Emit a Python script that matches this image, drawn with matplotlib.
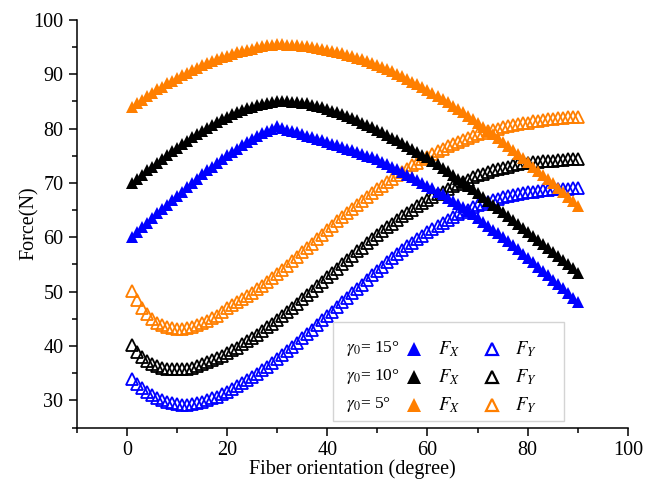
import matplotlib
matplotlib.use("Agg")
import matplotlib.pyplot as plt
from matplotlib.ticker import MultipleLocator
from matplotlib.patches import Rectangle
import numpy as np

# fiber orientation (degree), one point per degree
angle = np.arange(1, 91)

# F_X, filled triangles
fx_15 = [60.0, 60.9, 61.8, 62.7, 63.6, 64.4, 65.2, 66.0, 66.8, 67.6,
         68.4, 69.2, 70.0, 70.8, 71.6, 72.3, 73.0, 73.7, 74.4, 75.1,
         75.7, 76.3, 76.9, 77.5, 78.1, 78.6, 79.1, 79.6, 80.0, 80.4,
         80.1, 79.8, 79.5, 79.3, 79.0, 78.7, 78.4, 78.1, 77.8, 77.5,
         77.2, 76.9, 76.6, 76.3, 76.0, 75.7, 75.4, 75.0, 74.7, 74.3,
         73.9, 73.5, 73.0, 72.5, 72.0, 71.5, 71.0, 70.5, 70.0, 69.5,
         69.0, 68.4, 67.9, 67.3, 66.7, 66.1, 65.5, 64.8, 64.2, 63.5,
         62.8, 62.1, 61.4, 60.7, 60.0, 59.3, 58.5, 57.8, 57.0, 56.2,
         55.4, 54.6, 53.8, 53.0, 52.2, 51.4, 50.6, 49.7, 48.9, 48.0]
fx_10 = [70.0, 70.8, 71.5, 72.3, 73.0, 73.7, 74.4, 75.1, 75.8, 76.4,
         77.1, 77.7, 78.4, 79.0, 79.6, 80.1, 80.7, 81.2, 81.7, 82.2,
         82.6, 83.0, 83.4, 83.7, 84.0, 84.3, 84.5, 84.7, 84.9, 85.0,
         85.0, 85.0, 84.9, 84.8, 84.7, 84.6, 84.4, 84.2, 83.9, 83.6,
         83.3, 83.0, 82.7, 82.3, 81.9, 81.5, 81.1, 80.7, 80.2, 79.8,
         79.3, 78.8, 78.3, 77.8, 77.3, 76.8, 76.3, 75.7, 75.2, 74.7,
         74.1, 73.5, 72.8, 72.2, 71.5, 70.8, 70.2, 69.5, 68.8, 68.1,
         67.4, 66.7, 66.0, 65.3, 64.6, 63.9, 63.2, 62.4, 61.7, 61.0,
         60.3, 59.5, 58.8, 58.0, 57.3, 56.5, 55.8, 55.0, 54.3, 53.5]
fx_5 = [84.0, 84.7, 85.3, 86.0, 86.6, 87.2, 87.7, 88.3, 88.8, 89.3,
        89.8, 90.3, 90.7, 91.2, 91.6, 92.0, 92.4, 92.7, 93.1, 93.4,
        93.7, 94.0, 94.2, 94.5, 94.7, 94.9, 95.1, 95.3, 95.4, 95.5,
        95.5, 95.4, 95.4, 95.3, 95.2, 95.1, 95.0, 94.8, 94.7, 94.5,
        94.3, 94.1, 93.8, 93.6, 93.3, 93.0, 92.7, 92.4, 92.1, 91.7,
        91.3, 90.9, 90.5, 90.1, 89.6, 89.1, 88.6, 88.1, 87.6, 87.0,
        86.5, 85.9, 85.4, 84.8, 84.2, 83.6, 83.0, 82.3, 81.7, 81.0,
        80.3, 79.6, 78.9, 78.2, 77.5, 76.8, 76.0, 75.3, 74.5, 73.8,
        73.0, 72.2, 71.4, 70.7, 69.9, 69.1, 68.3, 67.4, 66.6, 65.8]

# F_Y, open triangles
fy_15 = [34.0, 33.0, 32.2, 31.5, 30.9, 30.4, 30.0, 29.7, 29.5, 29.3,
         29.2, 29.2, 29.3, 29.5, 29.7, 30.0, 30.4, 30.7, 31.1, 31.6,
         32.1, 32.6, 33.1, 33.7, 34.3, 34.9, 35.6, 36.2, 36.9, 37.6,
         38.3, 39.1, 39.8, 40.6, 41.4, 42.2, 43.0, 43.8, 44.7, 45.5,
         46.3, 47.2, 48.0, 48.9, 49.7, 50.5, 51.3, 52.2, 53.0, 53.8,
         54.6, 55.4, 56.1, 56.9, 57.6, 58.3, 59.0, 59.6, 60.3, 60.9,
         61.5, 62.1, 62.6, 63.2, 63.7, 64.2, 64.7, 65.1, 65.5, 65.9,
         66.2, 66.5, 66.8, 67.1, 67.4, 67.6, 67.8, 68.0, 68.2, 68.3,
         68.4, 68.5, 68.6, 68.7, 68.8, 68.8, 68.9, 68.9, 69.0, 69.0]
fy_10 = [40.2, 38.9, 37.9, 37.2, 36.7, 36.3, 36.0, 35.8, 35.7, 35.7,
         35.7, 35.8, 36.0, 36.3, 36.6, 37.0, 37.4, 37.8, 38.2, 38.7,
         39.2, 39.7, 40.3, 40.9, 41.5, 42.1, 42.7, 43.4, 44.1, 44.8,
         45.5, 46.3, 47.0, 47.8, 48.6, 49.4, 50.2, 51.0, 51.8, 52.6,
         53.4, 54.2, 55.0, 55.8, 56.6, 57.4, 58.1, 58.9, 59.7, 60.4,
         61.1, 61.8, 62.5, 63.2, 63.9, 64.5, 65.1, 65.7, 66.3, 66.9,
         67.4, 67.9, 68.4, 68.9, 69.4, 69.8, 70.2, 70.6, 71.0, 71.4,
         71.7, 72.0, 72.3, 72.6, 72.8, 73.0, 73.2, 73.4, 73.6, 73.7,
         73.8, 73.9, 74.0, 74.1, 74.1, 74.2, 74.2, 74.3, 74.3, 74.3]
fy_5 = [50.2, 48.4, 47.0, 45.9, 45.0, 44.3, 43.8, 43.5, 43.3, 43.2,
        43.2, 43.3, 43.5, 43.8, 44.2, 44.6, 45.1, 45.6, 46.3, 47.0,
        47.5, 48.0, 48.6, 49.2, 49.8, 50.5, 51.1, 51.8, 52.5, 53.2,
        54.0, 54.8, 55.6, 56.4, 57.2, 58.0, 58.8, 59.7, 60.5, 61.3,
        62.1, 62.9, 63.7, 64.4, 65.2, 65.9, 66.7, 67.4, 68.1, 68.8,
        69.5, 70.1, 70.8, 71.4, 72.0, 72.6, 73.2, 73.7, 74.3, 74.8,
        75.3, 75.8, 76.2, 76.7, 77.1, 77.5, 77.9, 78.2, 78.6, 78.9,
        79.2, 79.5, 79.7, 80.0, 80.2, 80.4, 80.6, 80.8, 81.0, 81.1,
        81.3, 81.4, 81.5, 81.7, 81.8, 81.9, 82.0, 82.1, 82.1, 82.2]

gamma_labels = [r"$\gamma_0$= 15°", r"$\gamma_0$= 10°", r"$\gamma_0$= 5°"]
colors = ["#0000FF", "#000000", "#FF7F00"]

plt.rcParams["font.family"] = "Liberation Serif"
plt.rcParams["mathtext.fontset"] = "stix"

fig = plt.figure(figsize=(6.61, 4.82), dpi=100)
ax = fig.add_axes([0.116, 0.113, 0.834, 0.846])

# open triangles first, filled ones on top
for fy, c in zip([fy_15, fy_10, fy_5], colors):
    ax.plot(angle, fy, linestyle="none", marker="^", markersize=8.5,
            markerfacecolor="none", markeredgecolor=c, markeredgewidth=1.3)
for fx, c in zip([fx_15, fx_10, fx_5], colors):
    ax.plot(angle, fx, linestyle="none", marker="^", markersize=9,
            color=c, markeredgewidth=0)

ax.set_xlim(-10, 100)
ax.set_ylim(25, 100)
ax.xaxis.set_major_locator(MultipleLocator(20))
ax.xaxis.set_minor_locator(MultipleLocator(10))
ax.yaxis.set_major_locator(MultipleLocator(10))
ax.yaxis.set_minor_locator(MultipleLocator(5))
ax.spines["top"].set_visible(False)
ax.spines["right"].set_visible(False)
for s in ["left", "bottom"]:
    ax.spines[s].set_linewidth(1.1)
ax.tick_params(which="major", direction="out", length=6, width=1.1, labelsize=14.5)
ax.tick_params(which="minor", direction="out", length=3.5, width=1.1)

ax.set_xlabel("Fiber orientation (degree)", fontsize=14.5, labelpad=0)
ax.set_ylabel("Force(N)", fontsize=14.5, labelpad=-4)

# hand made legend box
ax.add_patch(Rectangle((0.465, 0.0164), 0.419, 0.242, transform=ax.transAxes,
                       facecolor="white", edgecolor="#d4d4d4", linewidth=1.0, zorder=5))
rows = [0.1926, 0.1244, 0.0557]
for lab, c, yy in zip(gamma_labels, colors, rows):
    ax.text(0.4885, yy, lab, transform=ax.transAxes, fontsize=12.5,
            va="center", ha="left", zorder=6)
    ax.plot([0.612], [yy], transform=ax.transAxes, marker="^", markersize=10,
            color=c, markeredgewidth=0, linestyle="none", zorder=6)
    ax.text(0.655, yy, r"$F_X$", transform=ax.transAxes, fontsize=13.5,
            va="center", ha="left", zorder=6)
    ax.plot([0.753], [yy], transform=ax.transAxes, marker="^", markersize=9,
            markerfacecolor="white", markeredgecolor=c, markeredgewidth=1.6,
            linestyle="none", zorder=6)
    ax.text(0.795, yy, r"$F_Y$", transform=ax.transAxes, fontsize=13.5,
            va="center", ha="left", zorder=6)

fig.savefig("out.png", dpi=100)
